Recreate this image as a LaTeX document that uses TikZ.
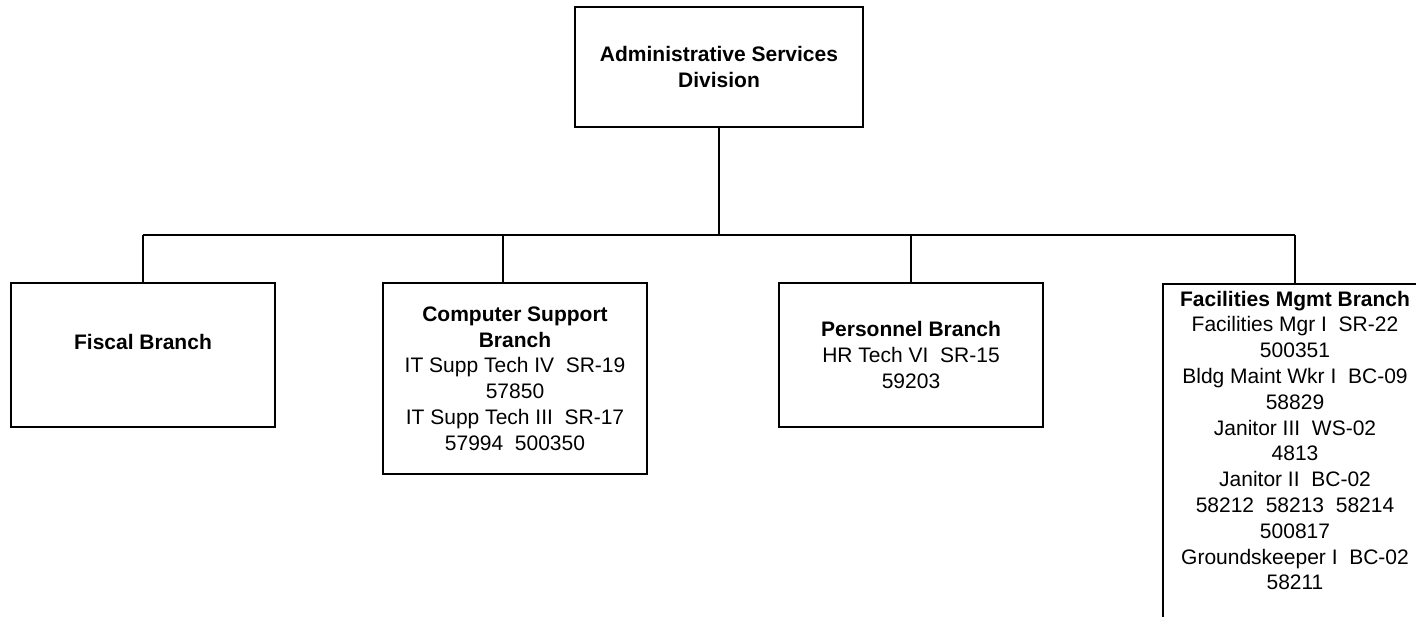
\documentclass[tikz,border=0pt]{standalone}
\usepackage{fontspec}
\setmainfont{Liberation Sans}
\begin{document}
\begin{tikzpicture}[x=1pt,y=-1pt,
  box/.style={draw,line width=1.8pt,inner sep=0pt,align=center,font=\fontsize{21}{25.8}\selectfont},
  link/.style={line width=1.8pt}]
\useasboundingbox (0,0) rectangle (1416,616);
\clip (0,0) rectangle (1416,616);
\node[box,minimum width=288pt,minimum height=120pt] (top) at (719,67) {\textbf{Administrative Services}\\\textbf{Division}};
\node[box,minimum width=264pt,minimum height=144pt] (fis) at (143,355) {\textbf{Fiscal Branch}\\[-7pt]\strut};
\node[box,minimum width=264pt,minimum height=191pt] (comp) at (515,378.5) {\textbf{Computer Support}\\\textbf{Branch}\\IT Supp Tech IV\ \ SR-19\\57850\\IT Supp Tech III\ \ SR-17\\57994\ \ 500350};
\node[box,minimum width=264pt,minimum height=144pt] (pers) at (911,355) {\textbf{Personnel Branch}\\HR Tech VI\ \ SR-15\\59203};
\node[box,anchor=north,minimum width=264pt,inner ysep=7pt,text depth=80pt] (fac) at (1295,283) {\textbf{Facilities Mgmt Branch}\\Facilities Mgr I\ \ SR-22\\500351\\Bldg Maint Wkr I\ \ BC-09\\58829\\Janitor III\ \ WS-02\\4813\\Janitor II\ \ BC-02\\58212\ \ 58213\ \ 58214\\500817\\Groundskeeper I\ \ BC-02\\58211};
\coordinate (bus) at (719,235);
\coordinate (cc) at (503,235);
\draw[link] (top.south) -- (bus);
\draw[link] (bus -| fis.north) -- (bus -| fac.north);
\draw[link] (bus -| fis.north) -- (fis.north);
\draw[link] (cc) -- (cc |- comp.north);
\draw[link] (bus -| pers.north) -- (pers.north);
\draw[link] (bus -| fac.north) -- (fac.north);
\end{tikzpicture}
\end{document}
